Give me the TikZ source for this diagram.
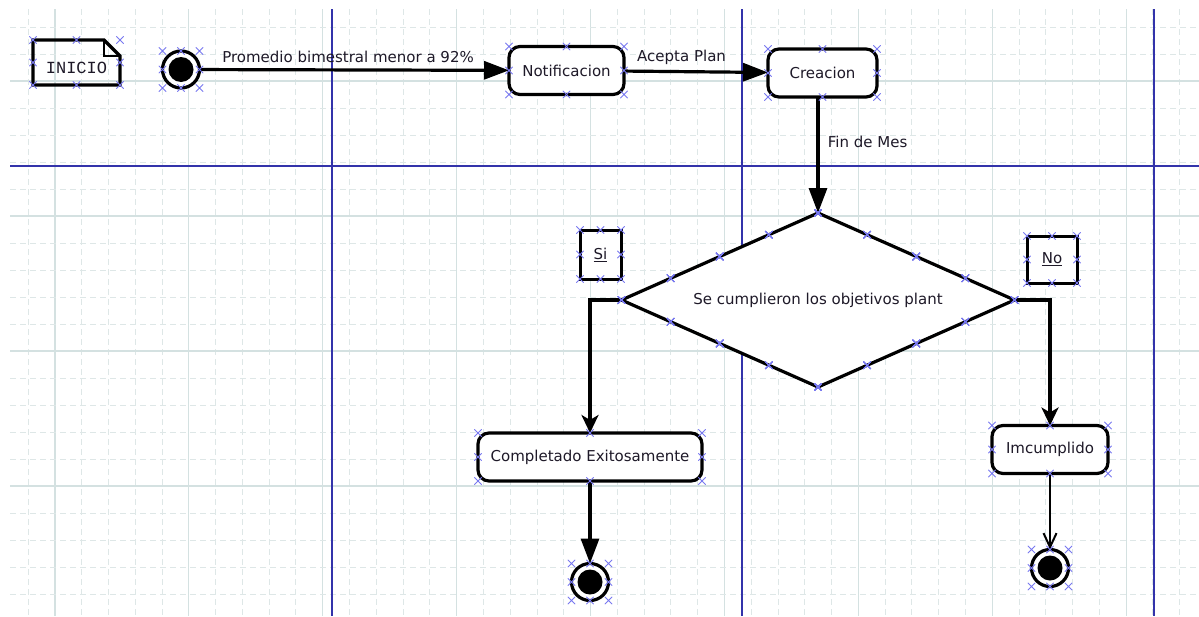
\documentclass[tikz,border=0pt]{standalone}
\usepackage{fontspec}
\setmainfont{DejaVu Sans}
\newfontfamily\notefont{Liberation Mono}
\usetikzlibrary{arrows.meta,positioning,shapes.geometric,shapes.misc,calc}
\definecolor{lanecol}{RGB}{51,51,170}
\definecolor{gridcol}{RGB}{222,231,231}
\definecolor{gridsolidcol}{RGB}{212,225,225}
\definecolor{markcol}{RGB}{120,120,240}
\definecolor{txtcol}{RGB}{30,25,40}

\tikzset{
  selmark/.style={cross out,draw=markcol,line width=0.8pt,minimum size=6.5pt,inner sep=0pt},
  gridsolid/.style={gridsolidcol,line width=1.2pt},
  griddash/.style={gridcol,line width=1pt,dash pattern=on 6pt off 4pt},
  lane/.style={lanecol,line width=1.6pt}
}

% selection marks round the box of a node
\newcommand\selmarks[1]{%
  \foreach \h/\v in {west/north,center/north,east/north,east/center,east/south,center/south,west/south,west/center}
    \node[selmark] at (#1.\h |- #1.\v) {};}

\begin{document}
\begin{tikzpicture}[x=1pt,y=-1pt,
  font=\fontsize{15}{18}\selectfont,text=txtcol,
  activity/.style={draw=black,fill=white,rounded corners=11pt,line width=3.2pt,
    minimum height=48pt,inner sep=0pt,outer sep=0pt},
  guard/.style={draw=black,fill=white,line width=3pt,inner sep=0pt,outer sep=0pt},
  decision/.style={minimum width=393pt,minimum height=174pt,inner sep=0pt,outer sep=0pt},
  decline/.style={draw=black,fill=white,line width=3.2pt,line join=miter},
  pseudo/.style={circle,draw=black,fill=white,line width=3.2pt,minimum size=37pt,
    inner sep=0pt,outer sep=0pt,
    path picture={\fill[black] (path picture bounding box.center) circle (12.5pt);}},
  flow/.style={line width=3.2pt,-{Triangle[length=25pt,width=18pt]}},
  branch/.style={line width=3.2pt,-{Stealth[length=18pt,width=17pt,inset=5pt]}},
  thinflow/.style={line width=2pt,-{Straight Barb[length=14pt,width=13pt]}}
]
  \path[use as bounding box,fill=white] (0,0) rectangle (1199,616);
  % Grid
  \foreach \i in {1,...,44}{
    \pgfmathsetmacro\gx{1.4+26.78*\i}
    \pgfmathtruncatemacro\solid{mod(\i+3,5)==0}
    \ifnum\solid=1 \draw[gridsolid] (\gx,9) -- (\gx,616);
    \else \draw[griddash] (\gx,9) -- (\gx,616); \fi
  }
  \foreach \j in {1,...,22}{
    \pgfmathsetmacro\gy{27*\j}
    \pgfmathtruncatemacro\solid{mod(\j,5)==3}
    \ifnum\solid=1 \draw[gridsolid] (10,\gy) -- (1199,\gy);
    \else \draw[griddash] (10,\gy) -- (1199,\gy); \fi
  }
  % Swimlane borders
  \foreach \lx in {332,742,1154}
    \draw[lane] (\lx,9) -- (\lx,616);
  \draw[lane] (10,166) -- (1199,166);

  % Note
  \node[minimum width=87pt,minimum height=45pt,inner sep=0pt,outer sep=0pt,
    text height=22pt,text depth=0pt,font=\notefont\fontsize{17}{20}\selectfont]
    (nota) at (76.5,62.5) {INICIO};
  \draw[line width=3.2pt,line join=miter] (nota.north west)
    -- ($(nota.north east)+(-16,0)$) -- ($(nota.north east)+(0,16)$)
    -- (nota.south east) -- (nota.south west) -- cycle;
  \draw[line width=1.3pt] ($(nota.north east)+(-16,0)$) |- ($(nota.north east)+(0,16)$);

  % Nodes
  \node[pseudo] (inicio) at (181,69.5) {};
  \node[activity,minimum width=115pt] (notif) at (566.5,70.5) {Notificacion};
  \node[activity,minimum width=109pt] (creacion) at (822.5,73) {Creacion};
  \node[decision] (dec) at (818,300) {};
  \draw[decline] (dec.west) -- (dec.north) -- (dec.east) -- (dec.south) -- cycle;
  \node (dectxt) at (dec.center) {Se cumplieron los objetivos plant};
  \node[guard,minimum width=41pt,minimum height=49pt] (si) at (600.5,254.5) {\underline{Si}};
  \node[guard,minimum width=50pt,minimum height=47pt] (no) at (1052,259.5) {\underline{No}};
  \node[activity,minimum width=224pt] (exito) at (590,457) {Completado Exitosamente};
  \node[activity,minimum width=116pt] (incumplido) at (1050,449.5) {Imcumplido};
  \node[pseudo] (fin1) at (590,582) {};
  \node[pseudo] (fin2) at (1050,568) {};

  % Transitions
  \draw[flow] (inicio) -- node[above=2pt,pos=0.48] {Promedio bimestral menor a 92\%} (notif);
  \draw[flow] (notif) -- node[above=2pt,pos=0.4] {Acepta Plan} (creacion);
  \draw[flow] (creacion.south -| dec.north) -- node[right=5pt,pos=0.39] {Fin de Mes} (dec.north);
  \draw[branch] (dec.west) -| (exito.north);
  \draw[branch] (dec.east) -| (incumplido.north);
  \draw[flow] (exito) -- (fin1);
  \draw[thinflow] (incumplido) -- (fin2);

  % Selection marks
  \foreach \n in {nota,inicio,notif,creacion,si,no,exito,incumplido,fin1,fin2}
    \selmarks{\n}
  \foreach \a/\b in {west/north,north/east,east/south,south/west}
    \foreach \f in {0,0.25,0.5,0.75}
      \node[selmark] at ($(dec.\a)!\f!(dec.\b)$) {};
\end{tikzpicture}
\end{document}
